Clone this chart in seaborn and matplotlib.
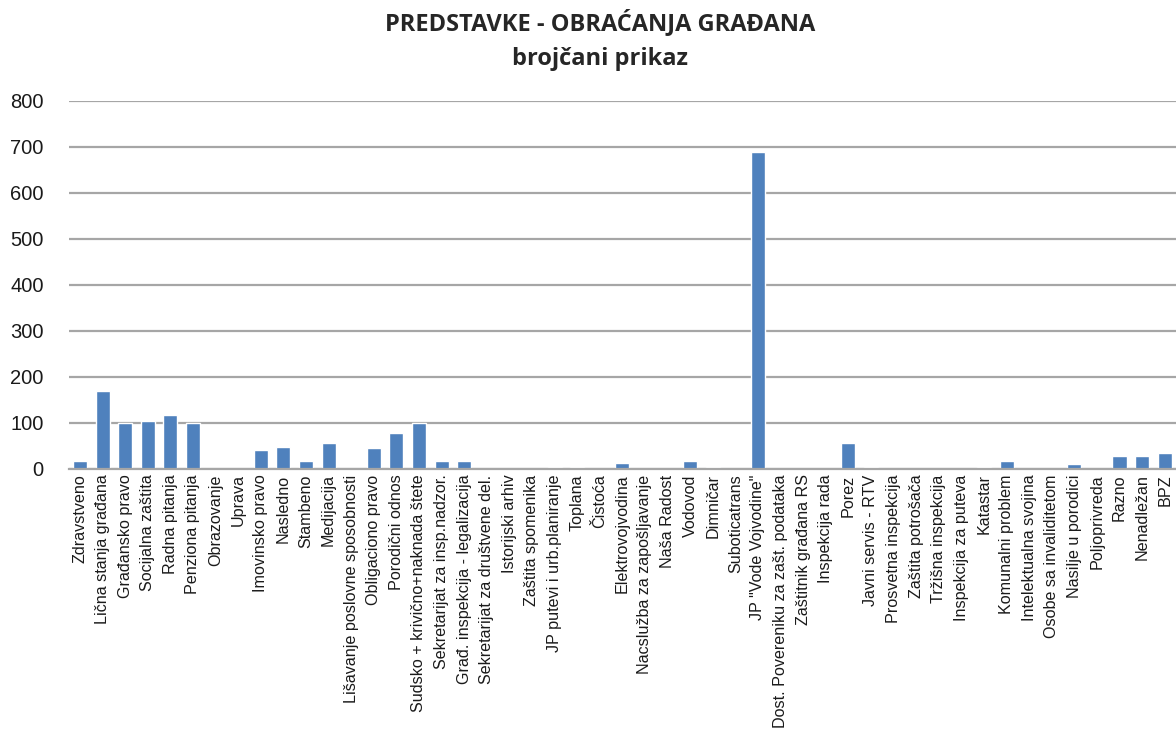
import pandas as pd
import numpy as np
import matplotlib
matplotlib.use('Agg')
import matplotlib.pyplot as plt
import seaborn as sns

# categories and counts
categories = [
    'Zdravstveno', 'Lična stanja građana', 'Građansko pravo', 'Socijalna zaštita',
    'Radna pitanja', 'Penziona pitanja', 'Obrazovanje', 'Uprava', 'Imovinsko pravo',
    'Nasledno', 'Stambeno', 'Medijacija', 'Lišavanje poslovne sposobnosti',
    'Obligaciono pravo', 'Porodični odnos', 'Sudsko + krivično+naknada štete',
    'Sekretarijat za insp.nadzor.', 'Građ. inspekcija - legalizacija',
    'Sekretarijat za društvene del.', 'Istorijski arhiv', 'Zaštita spomenika',
    'JP putevi i urb.planiranje', 'Toplana', 'Čistoća', 'Elektrovojvodina',
    'Nacslužba za zapošljavanje', 'Naša Radost', 'Vodovod', 'Dimničar',
    'Suboticatrans', 'JP "Vode Vojvodine"', 'Dost. Povereniku za zašt. podataka',
    'Zaštitnik građana RS', 'Inspekcija rada', 'Porez', 'Javni servis - RTV',
    'Prosvetna inspekcija', 'Zaštita potrošača', 'Tržišna inspekcija',
    'Inspekcija za puteva', 'Katastar', 'Komunalni problem', 'Intelektualna svojina',
    'Osobe sa invaliditetom', 'Nasilje u porodici', 'Poljoprivreda', 'Razno',
    'Nenadležan', 'BPZ',
]
counts = [
    18, 170, 100, 105,
    117, 100, 0, 0, 41,
    48, 18, 56, 0,
    45, 79, 100,
    18, 18,
    0, 0, 0,
    5, 5, 0, 14,
    0, 0, 18, 5,
    0, 690, 0,
    0, 0, 56, 5,
    0, 0, 0,
    0, 5, 18, 0,
    0, 10, 0, 28,
    28, 34,
]
y_ticks = [0, 100, 200, 300, 400, 500, 600, 700, 800]

df = pd.DataFrame({'kategorija': categories, 'broj': counts})

sns.set_style('white')
plt.rcParams['font.family'] = ['Liberation Sans', 'DejaVu Sans']

fig = plt.figure(figsize=(11.76, 7.42), dpi=100)
ax = fig.add_axes([0.0584, 0.368, 0.9416, 0.496])

sns.barplot(data=df, x='kategorija', y='broj', color='#4F81BD', width=0.62,
            saturation=1, ax=ax, zorder=3)

ax.set_ylim(0, 800)
ax.set_yticks(y_ticks)
ax.set_xlim(-0.5, len(categories) - 0.5)
ax.yaxis.grid(True, color='#a6a6a6', linewidth=1.6, zorder=0)
ax.set_axisbelow(True)
for s in ['top', 'right', 'left']:
    ax.spines[s].set_visible(False)
ax.spines['bottom'].set_color('#a6a6a6')
ax.spines['bottom'].set_linewidth(1.6)
ax.spines['bottom'].set_zorder(4)

ax.set_xlabel('')
ax.set_ylabel('')
ax.tick_params(axis='y', length=0, labelsize=14.5, pad=18, colors='#1a1a1a')
ax.tick_params(axis='x', length=0, pad=4, colors='#1a1a1a')
ax.set_xticks(range(len(categories)))
ax.set_xticklabels(categories, rotation=90, fontsize=11.6, va='top', ha='center')

fig.text(0.51, 0.97, 'PREDSTAVKE - OBRAĆANJA GRAĐANA', ha='center', va='center',
         fontsize=17, fontweight='bold', family=['Open Sans', 'DejaVu Sans'])
fig.text(0.51, 0.921, 'brojčani prikaz', ha='center', va='center',
         fontsize=17, fontweight='bold', family=['Open Sans', 'DejaVu Sans'])

fig.savefig('out.png', dpi=100)
